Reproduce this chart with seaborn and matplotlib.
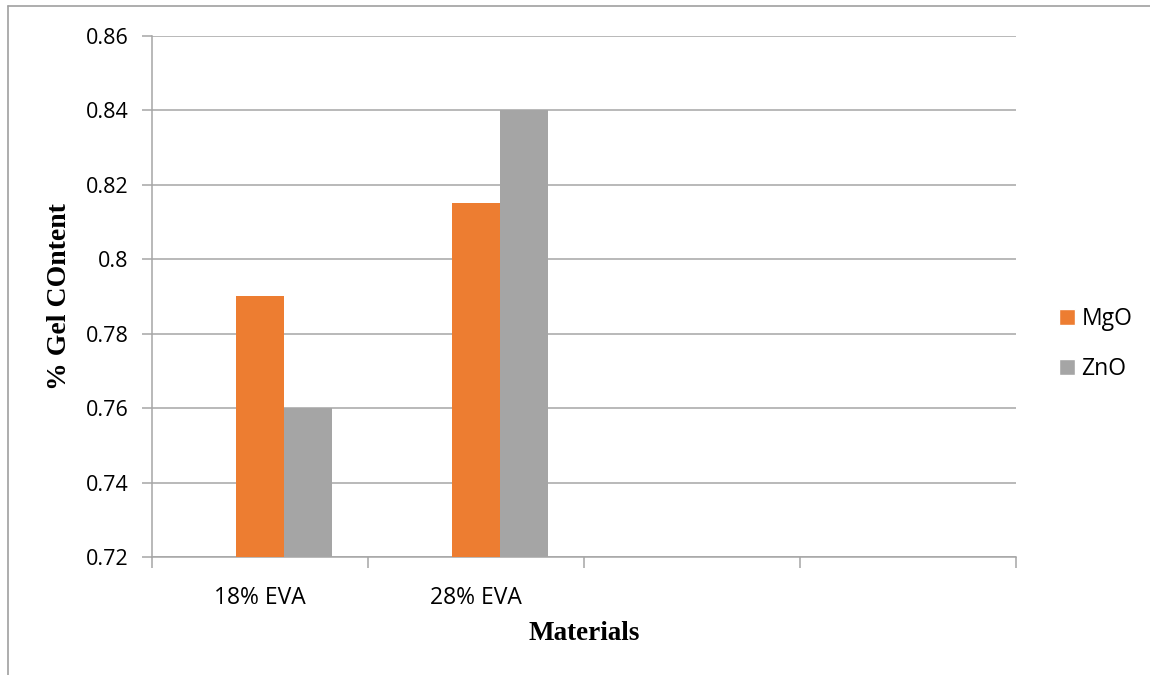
import matplotlib
matplotlib.use("Agg")
import matplotlib.pyplot as plt
import seaborn as sns
import pandas as pd
import numpy as np
from matplotlib.patches import Patch
from matplotlib.lines import Line2D

# ---- data ----
categories = ["18% EVA", "28% EVA", "slot3", "slot4"]
category_labels = ["18% EVA", "28% EVA", "", ""]
series_names = ["Series0", "MgO", "ZnO"]   # Series0 is an empty (hidden) series
mgo_values = [0.79, 0.815]
zno_values = [0.76, 0.84]
series0_values = [np.nan, np.nan]
y_ticks = [0.72, 0.74, 0.76, 0.78, 0.80, 0.82, 0.84, 0.86]
y_tick_labels = ["0.72", "0.74", "0.76", "0.78", "0.8", "0.82", "0.84", "0.86"]

colors = {"Series0": "#FFFFFF", "MgO": "#ED7D31", "ZnO": "#A5A5A5"}

rows = []
for i, cat in enumerate(categories[:2]):
    rows.append((cat, "Series0", series0_values[i]))
    rows.append((cat, "MgO", mgo_values[i]))
    rows.append((cat, "ZnO", zno_values[i]))
df = pd.DataFrame(rows, columns=["Material", "Series", "Value"])

sns.set_theme(style="white")
plt.rcParams["font.family"] = ["Open Sans", "DejaVu Sans"]
plt.rcParams["text.color"] = "#000000"
plt.rcParams["axes.labelcolor"] = "#000000"

fig = plt.figure(figsize=(11.5, 6.75), dpi=100)
ax = fig.add_axes([152 / 1150, 1 - 557 / 675, 864 / 1150, 521 / 675])

sns.barplot(data=df, x="Material", y="Value", hue="Series",
            order=categories, hue_order=series_names, palette=colors,
            width=0.667, dodge=True, errorbar=None, legend=False,
            saturation=1, linewidth=0, ax=ax, zorder=3)

ax.set_ylim(0.72, 0.86)
ax.set_xlim(-0.5, 3.5)
ax.set_yticks(y_ticks)
ax.set_yticklabels(y_tick_labels, fontsize=15.5, color="#000000")
ax.yaxis.grid(True, color="#A6A6A6", linewidth=1.1, zorder=0)
ax.set_axisbelow(True)

# x ticks at slot boundaries, labels at slot centres
ax.set_xticks([-0.5, 0.5, 1.5, 2.5, 3.5])
ax.set_xticklabels([""] * 5)
ax.set_xticks([0, 1, 2, 3], minor=True)
ax.set_xticklabels(category_labels, minor=True, fontsize=16.5, color="#000000")
ax.tick_params(axis="x", which="major", length=8, width=1.1, color="#A6A6A6", direction="out", bottom=True)
ax.tick_params(axis="x", which="minor", length=0, pad=21)
ax.tick_params(axis="y", which="major", length=7, width=1.1, color="#A6A6A6", direction="out", left=True, pad=10)

for side in ["top", "right"]:
    ax.spines[side].set_visible(False)
for side in ["left", "bottom"]:
    ax.spines[side].set_color("#A6A6A6")
    ax.spines[side].set_linewidth(1.1)

ax.set_xlabel("Materials", fontsize=19.5, fontweight="bold", color="#000000",
              family=["Liberation Serif", "DejaVu Serif"], labelpad=8)
ax.set_ylabel("% Gel COntent", fontsize=20, fontweight="bold", color="#000000",
              family=["Liberation Serif", "DejaVu Serif"], labelpad=10)

handles = [Patch(facecolor=colors["MgO"], label="MgO"),
           Patch(facecolor=colors["ZnO"], label="ZnO")]
fig.legend(handles=handles, loc="center left", bbox_to_anchor=(1038 / 1150, 1 - 344 / 675),
           frameon=False, fontsize=16.5, handlelength=0.7, handleheight=0.7,
           handletextpad=0.3, labelspacing=1.1)

# outer chart-area border (top and left edges visible)
fig.add_artist(Line2D([8 / 1150, 1.0], [1 - 6 / 675, 1 - 6 / 675], transform=fig.transFigure,
                      color="#A0A0A0", linewidth=1.2))
fig.add_artist(Line2D([8 / 1150, 8 / 1150], [1 - 6 / 675, 0.0], transform=fig.transFigure,
                      color="#A0A0A0", linewidth=1.2))

fig.savefig("out.png", dpi=100, facecolor="white")
